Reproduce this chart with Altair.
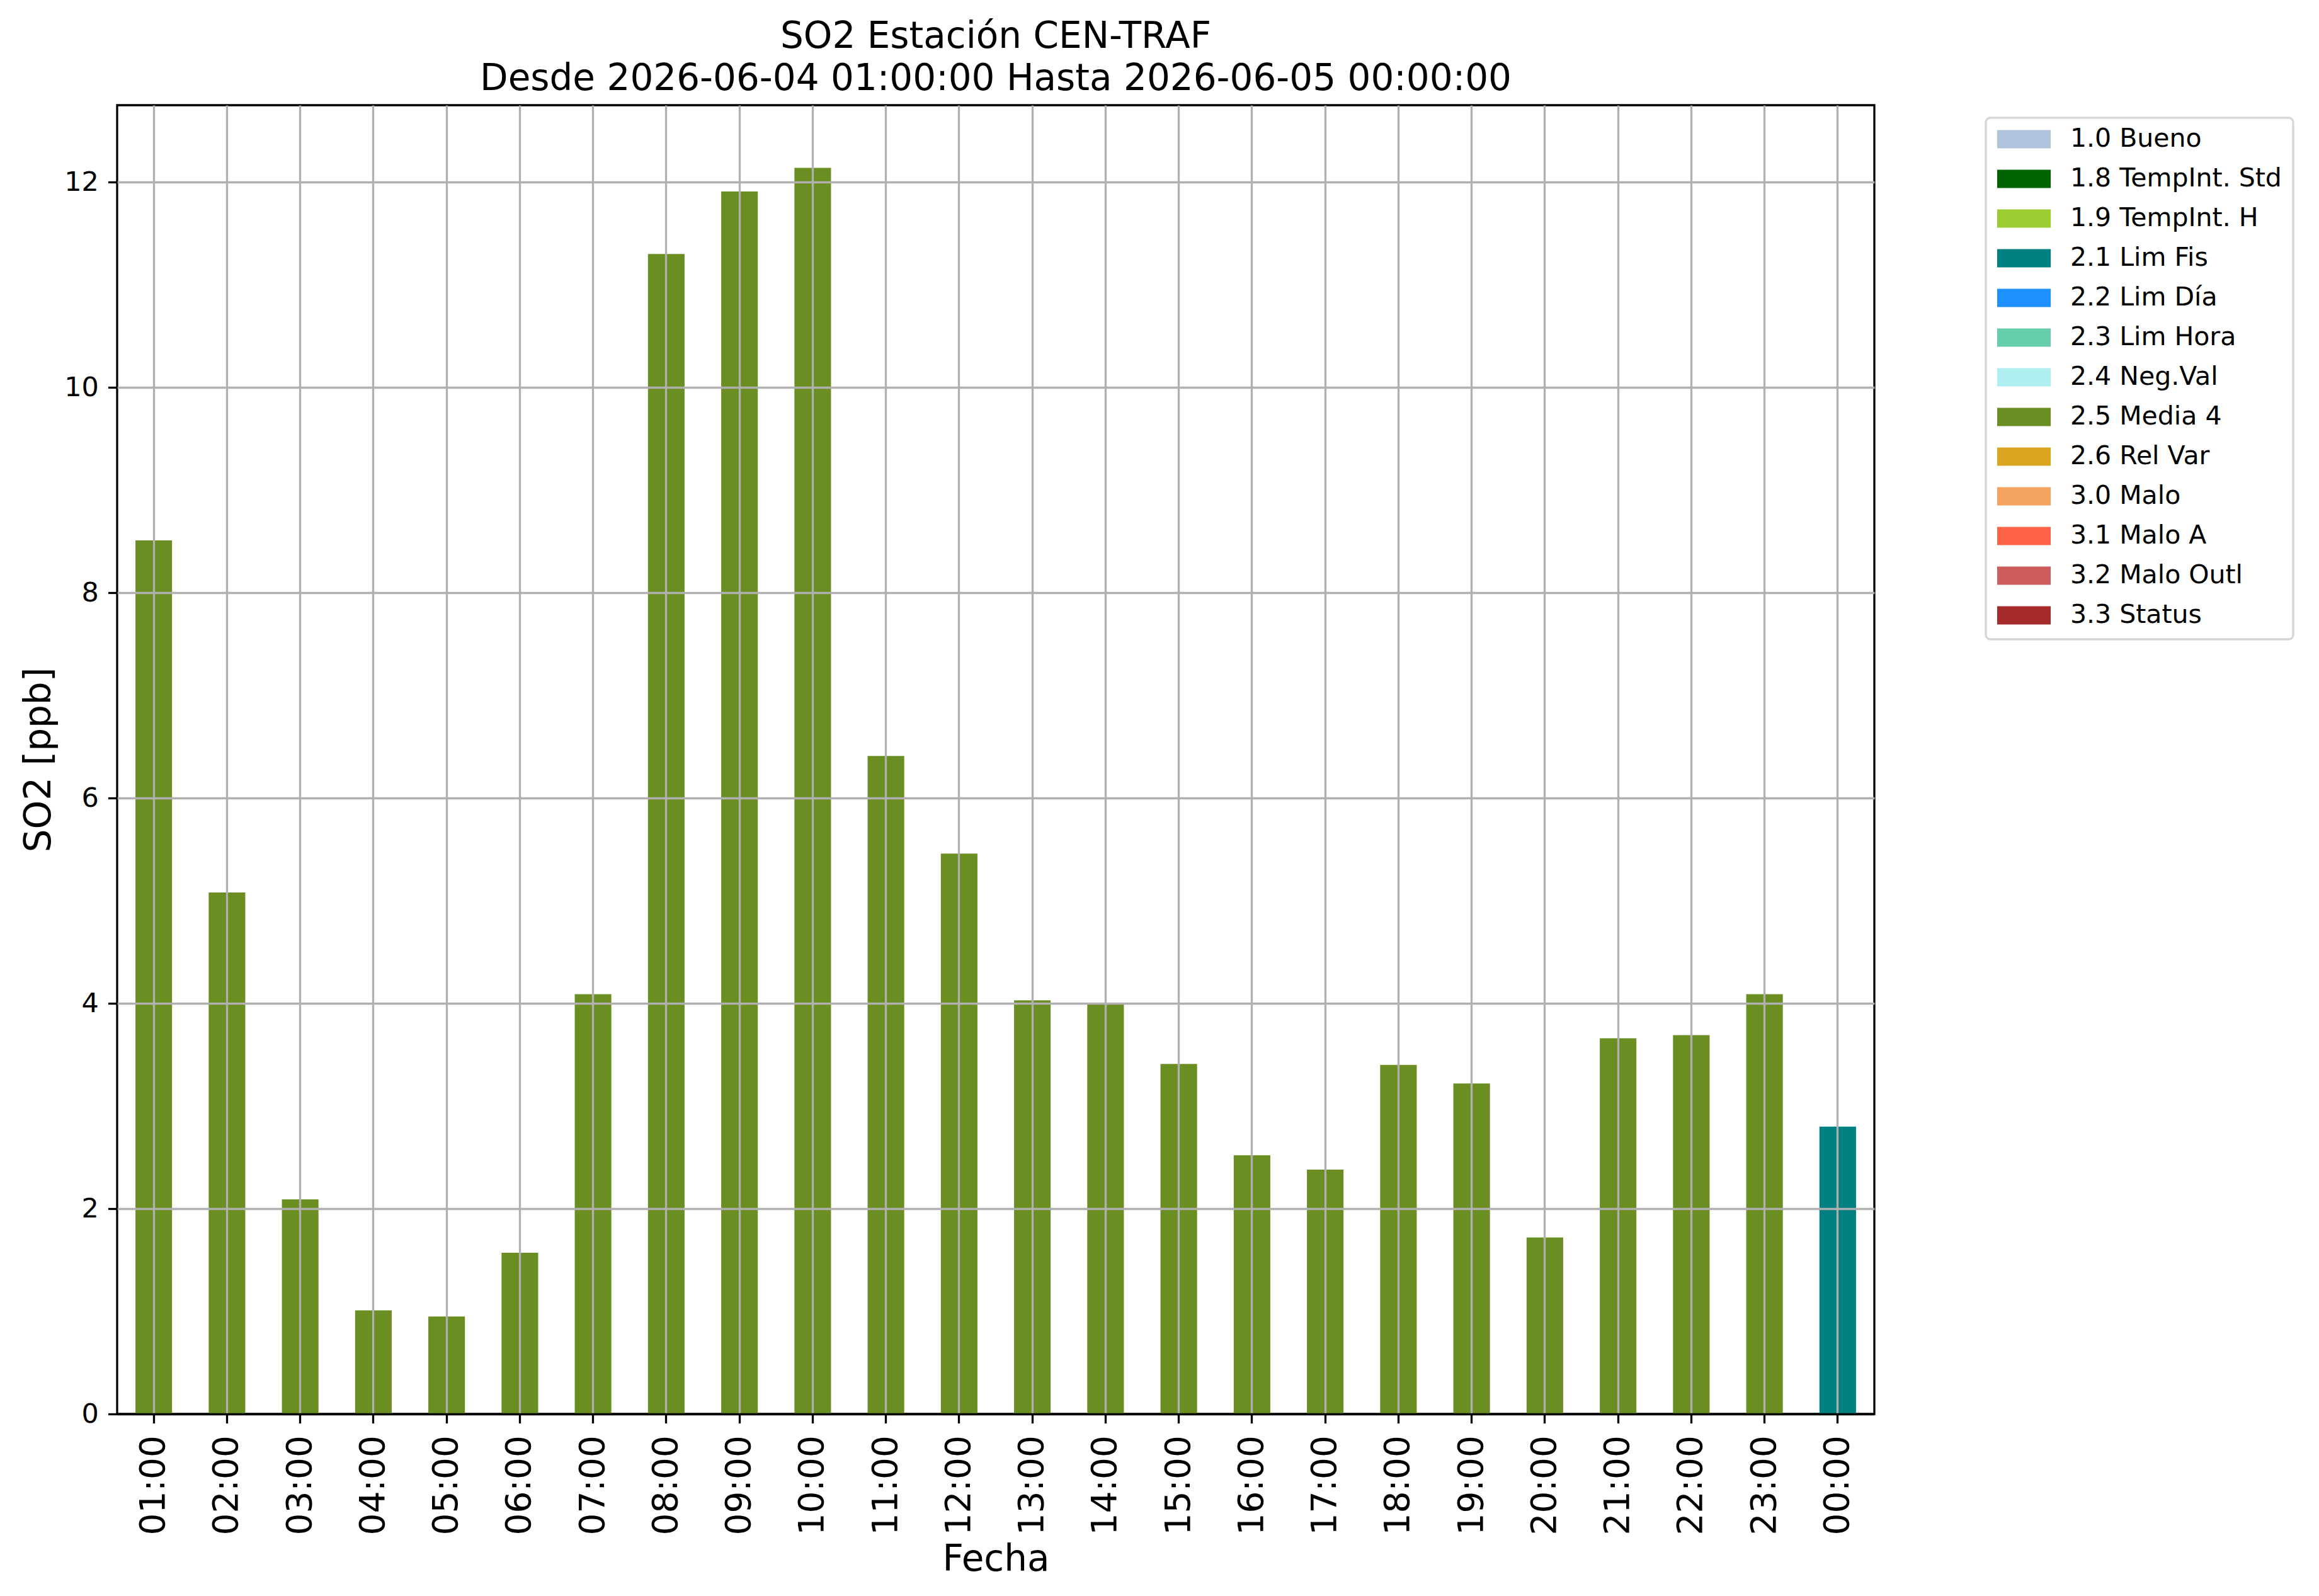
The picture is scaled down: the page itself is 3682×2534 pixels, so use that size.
import altair as alt
import pandas as pd

horas = ["01:00", "02:00", "03:00", "04:00", "05:00", "06:00", "07:00", "08:00",
         "09:00", "10:00", "11:00", "12:00", "13:00", "14:00", "15:00", "16:00",
         "17:00", "18:00", "19:00", "20:00", "21:00", "22:00", "23:00", "00:00"]
so2 = [8.51, 5.08, 2.09, 1.01, 0.95, 1.57, 4.09, 11.30,
       11.91, 12.14, 6.41, 5.46, 4.03, 4.00, 3.41, 2.52,
       2.38, 3.40, 3.22, 1.72, 3.66, 3.69, 4.09, 2.80]
flags = ["2.5 Media 4"] * 23 + ["2.1 Lim Fis"]

categorias = ["1.0 Bueno", "1.8 TempInt. Std", "1.9 TempInt. H", "2.1 Lim Fis",
              "2.2 Lim Día", "2.3 Lim Hora", "2.4 Neg.Val", "2.5 Media 4",
              "2.6 Rel Var", "3.0 Malo", "3.1 Malo A", "3.2 Malo Outl", "3.3 Status"]
colores = ["#B0C4DE", "#006400", "#9ACD32", "#008080",
           "#1E90FF", "#66CDAA", "#AFEEEE", "#6B8E23",
           "#DAA520", "#F4A460", "#FF6347", "#CD5C5C", "#A52A2A"]

df = pd.DataFrame({"Fecha": horas, "SO2": so2, "Flag": flags})

FONT = "DejaVu Sans"
LW = 3.3

chart = alt.Chart(df).mark_bar(strokeWidth=0).encode(
    x=alt.X("Fecha:N", sort=horas,
            scale=alt.Scale(paddingInner=0.5, paddingOuter=0.25),
            axis=alt.Axis(title="Fecha", labelAngle=270, labelFontSize=55,
                          labelPadding=19, titleFontSize=58, titlePadding=10,
                          titleFontWeight="normal", grid=True, gridColor="#b0b0b0",
                          gridWidth=LW, tickColor="black", tickWidth=LW,
                          tickSize=14.6, domain=False, zindex=1,
                          labelFont=FONT, titleFont=FONT,
                          labelColor="black", titleColor="black")),
    y=alt.Y("SO2:Q",
            scale=alt.Scale(domain=[0, 12.75], nice=False, zero=True),
            axis=alt.Axis(title="SO2 [ppb]", values=[0, 2, 4, 6, 8, 10, 12],
                          labelFontSize=43, labelPadding=15, titleFontSize=58,
                          titlePadding=10, titleFontWeight="normal",
                          grid=True,
                          gridColor={"condition": {"test": "datum.value === 0", "value": "black"},
                                     "value": "#b0b0b0"},
                          gridWidth=LW, tickColor="black", tickWidth=LW,
                          tickSize=14.6, domain=False, zindex=1,
                          labelFont=FONT, titleFont=FONT,
                          labelColor="black", titleColor="black")),
    color=alt.Color("Flag:N",
                    scale=alt.Scale(domain=categorias, range=colores),
                    legend=alt.Legend(title=None, orient="none", legendX=2967, legendY=20,
                                      labelFont=FONT, labelFontSize=41, labelColor="black",
                                      symbolType="M-1,-0.34L1,-0.34L1,0.34L-1,0.34Z",
                                      symbolSize=7225, symbolStrokeWidth=0,
                                      symbolOpacity=1, labelOffset=31,
                                      clipHeight=32, rowPadding=22, padding=18,
                                      strokeColor="#d6d6d6", fillColor="white",
                                      cornerRadius=7, labelLimit=1000)),
).properties(
    width=2790,
    height=2078,
    background="white",
    title=alt.TitleParams(
        text=["SO2 Estación CEN-TRAF",
              "Desde 2026-06-04 01:00:00 Hasta 2026-06-05 00:00:00"],
        font=FONT, fontSize=58, fontWeight="normal", color="black",
        anchor="middle", lineHeight=67, offset=12),
    autosize=alt.AutoSizeParams(type="none"),
    padding={"left": 178, "top": 159, "right": 690, "bottom": 280},
).configure_view(
    stroke="black", strokeWidth=LW
).configure_legend(
    strokeWidth=LW
)

chart.save("out.html", embed_options={"renderer": "svg", "actions": False})
